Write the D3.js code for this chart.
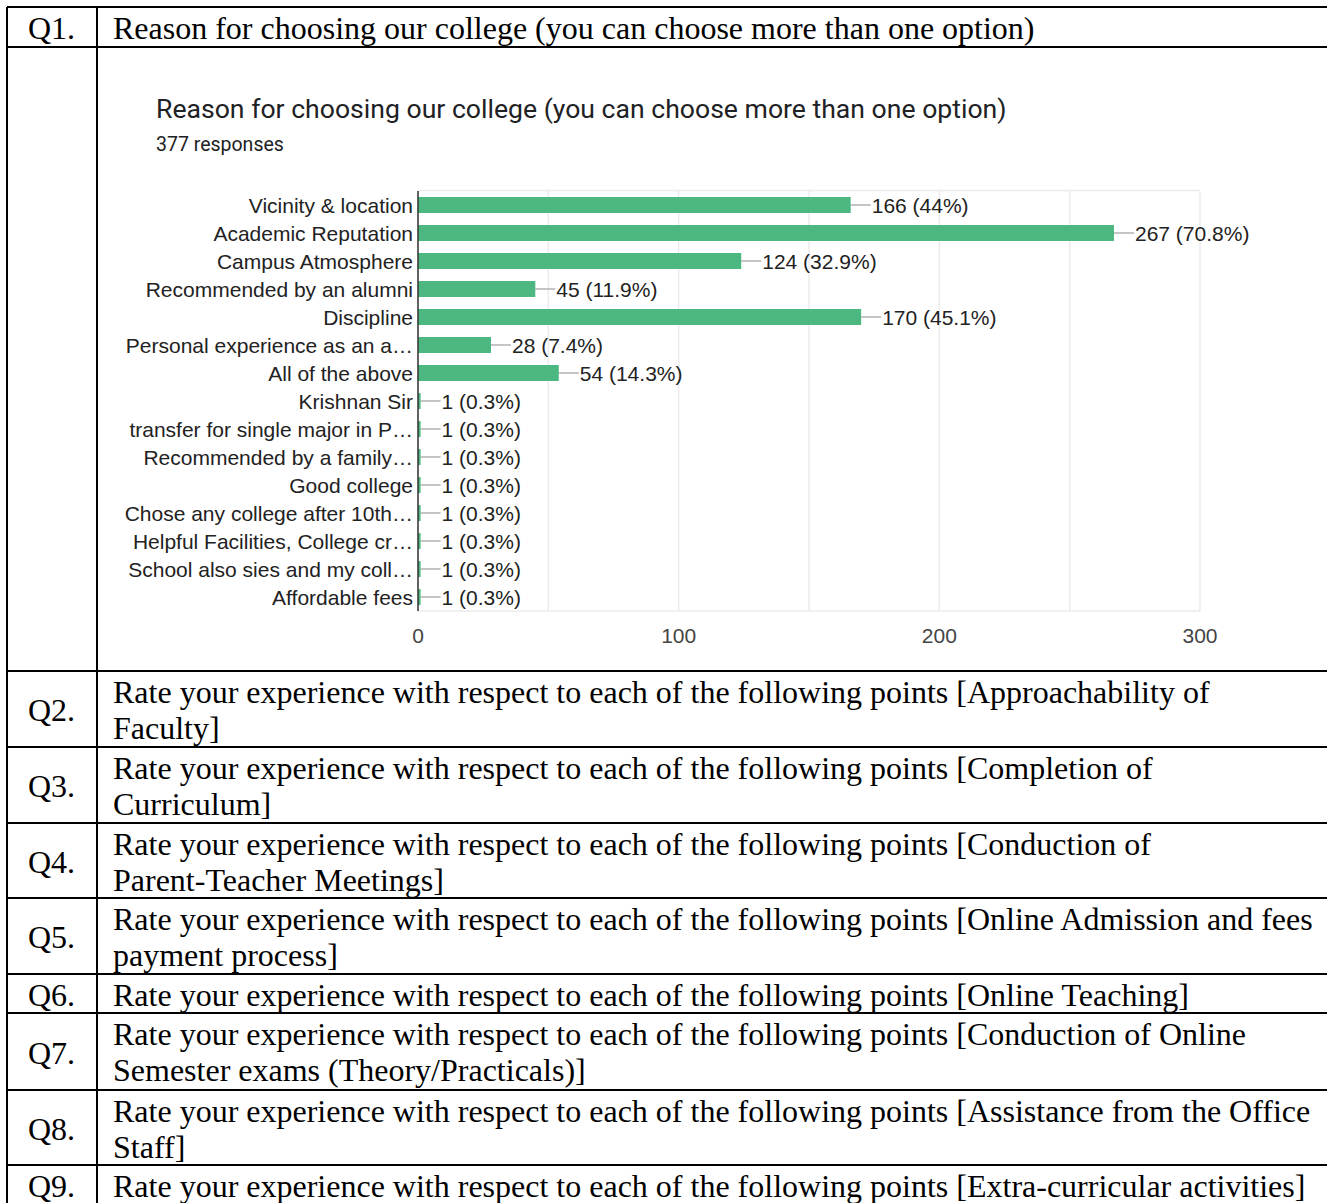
<!DOCTYPE html>
<html>
<head>
<meta charset="utf-8">
<script src="https://cdn.jsdelivr.net/npm/d3@7"></script>
<style>
  body { margin: 0; background: #fff; }
  svg { display: block; }
</style>
</head>
<body>
<script>
// chart data
var categories = [
  "Vicinity & location",
  "Academic Reputation",
  "Campus Atmosphere",
  "Recommended by an alumni",
  "Discipline",
  "Personal experience as an a\u2026",
  "All of the above",
  "Krishnan Sir",
  "transfer for single major in P\u2026",
  "Recommended by a family\u2026",
  "Good college",
  "Chose any college after 10th\u2026",
  "Helpful Facilities, College cr\u2026",
  "School also sies and my coll\u2026",
  "Affordable fees"
];
var counts = [166, 267, 124, 45, 170, 28, 54, 1, 1, 1, 1, 1, 1, 1, 1];
var totalResponses = 377;
var xTicks = [0, 100, 200, 300];
var gridTicks = [0, 50, 100, 150, 200, 250, 300];

var chartTitle = "Reason for choosing our college (you can choose more than one option)";

// table data
var qLabels = ["Q1.", "", "Q2.", "Q3.", "Q4.", "Q5.", "Q6.", "Q7.", "Q8.", "Q9."];
var qTexts = [
  ["Reason for choosing our college (you can choose more than one option)"],
  [],
  ["Rate your experience with respect to each of the following points [Approachability of", "Faculty]"],
  ["Rate your experience with respect to each of the following points [Completion of", "Curriculum]"],
  ["Rate your experience with respect to each of the following points [Conduction of", "Parent-Teacher Meetings]"],
  ["Rate your experience with respect to each of the following points [Online Admission and fees", "payment process]"],
  ["Rate your experience with respect to each of the following points [Online Teaching]"],
  ["Rate your experience with respect to each of the following points [Conduction of Online", "Semester exams (Theory/Practicals)]"],
  ["Rate your experience with respect to each of the following points [Assistance from the Office", "Staff]"],
  ["Rate your experience with respect to each of the following points [Extra-curricular activities]"]
];
var rowLines = [7, 47, 671, 747, 823, 898, 974, 1013, 1090, 1165, 1240];

var W = 1327, H = 1203;
var svg = d3.select("body").append("svg")
  .attr("width", W)
  .attr("height", H);

// ---- table ----
var table = svg.append("g");
var colX = 7, col2X = 97;
var serif = "'Liberation Serif', 'Times New Roman', serif";

table.selectAll(".hline")
  .data(rowLines.slice(0, -1))
  .enter().append("line")
  .attr("x1", colX).attr("x2", W + 5)
  .attr("y1", function(d) { return d; })
  .attr("y2", function(d) { return d; })
  .attr("stroke", "#000").attr("stroke-width", 2);

[colX, col2X].forEach(function(x) {
  table.append("line")
    .attr("x1", x).attr("x2", x)
    .attr("y1", rowLines[0]).attr("y2", H + 5)
    .attr("stroke", "#000").attr("stroke-width", 2);
});

qLabels.forEach(function(q, i) {
  var top = rowLines[i], bot = rowLines[i + 1];
  var lines = qTexts[i];
  if (!lines.length) return;
  var mid = lines.length > 1 ? (top + bot) / 2 + 12 : top + 32;
  table.append("text")
    .attr("x", 28).attr("y", mid)
    .style("font-family", serif)
    .style("font-size", "32px")
    .text(q);
  lines.forEach(function(t, j) {
    table.append("text")
      .attr("x", 113).attr("y", top + 32 + j * 36)
      .style("font-family", serif)
      .style("font-size", "32px")
      .text(t);
  });
});

// ---- chart ----
var chart = svg.append("g");
var sans = "'Liberation Sans', Arial, sans-serif";

chart.append("text")
  .attr("x", 156).attr("y", 118)
  .style("font-family", "Roboto, 'Noto Sans', sans-serif")
  .style("font-size", "26.6px")
  .style("fill", "#202124")
  .text(chartTitle);

chart.append("text")
  .attr("x", 156).attr("y", 151)
  .style("font-family", "Roboto, 'Noto Sans', sans-serif")
  .style("font-size", "19.5px")
  .style("fill", "#202124")
  .text(totalResponses + " responses");

var x = d3.scaleLinear().domain([0, 300]).range([418, 1200]);
var y = d3.scaleBand().domain(categories).range([191, 611])
  .paddingInner(0.43).paddingOuter(0.215);

// grid
chart.selectAll(".grid")
  .data(gridTicks)
  .enter().append("line")
  .attr("x1", function(d) { return x(d); })
  .attr("x2", function(d) { return x(d); })
  .attr("y1", 191).attr("y2", 611)
  .attr("stroke", "#ebebeb").attr("stroke-width", 1.5);

chart.append("line")
  .attr("x1", x(0)).attr("x2", x(300))
  .attr("y1", 190.5).attr("y2", 190.5)
  .attr("stroke", "#ebebeb").attr("stroke-width", 1.5);
chart.append("line")
  .attr("x1", x(0)).attr("x2", x(300))
  .attr("y1", 611).attr("y2", 611)
  .attr("stroke", "#ebebeb").attr("stroke-width", 1.5);

var data = categories.map(function(c, i) {
  return { name: c, value: counts[i] };
});
var pct = d3.format(".1~f");

chart.selectAll(".bar")
  .data(data)
  .enter().append("rect")
  .attr("class", "bar")
  .attr("x", x(0))
  .attr("y", function(d) { return y(d.name); })
  .attr("width", function(d) { return x(d.value) - x(0); })
  .attr("height", y.bandwidth())
  .attr("fill", "#4cb780");

// leader lines + value labels
chart.selectAll(".leader")
  .data(data)
  .enter().append("line")
  .attr("x1", function(d) { return x(d.value); })
  .attr("x2", function(d) { return x(d.value) + 20; })
  .attr("y1", function(d) { return y(d.name) + y.bandwidth() / 2; })
  .attr("y2", function(d) { return y(d.name) + y.bandwidth() / 2; })
  .attr("stroke", "#9e9e9e").attr("stroke-width", 1.2);

chart.selectAll(".val")
  .data(data)
  .enter().append("text")
  .attr("x", function(d) { return x(d.value) + 21; })
  .attr("y", function(d) { return y(d.name) + y.bandwidth() / 2 + 7.5; })
  .style("font-family", sans)
  .style("font-size", "21px")
  .style("fill", "#222")
  .text(function(d) {
    return d.value + " (" + pct(d.value / totalResponses * 100) + "%)";
  });

// category labels
chart.selectAll(".cat")
  .data(data)
  .enter().append("text")
  .attr("x", 413)
  .attr("y", function(d) { return y(d.name) + y.bandwidth() / 2 + 7.5; })
  .attr("text-anchor", "end")
  .style("font-family", sans)
  .style("font-size", "21px")
  .style("fill", "#222")
  .text(function(d) { return d.name; });

// axis baseline
chart.append("line")
  .attr("x1", x(0)).attr("x2", x(0))
  .attr("y1", 191).attr("y2", 611)
  .attr("stroke", "#333").attr("stroke-width", 1.5);

chart.selectAll(".tick")
  .data(xTicks)
  .enter().append("text")
  .attr("x", function(d) { return x(d); })
  .attr("y", 643)
  .attr("text-anchor", "middle")
  .style("font-family", sans)
  .style("font-size", "21px")
  .style("fill", "#444")
  .text(function(d) { return d; });
</script>
</body>
</html>
